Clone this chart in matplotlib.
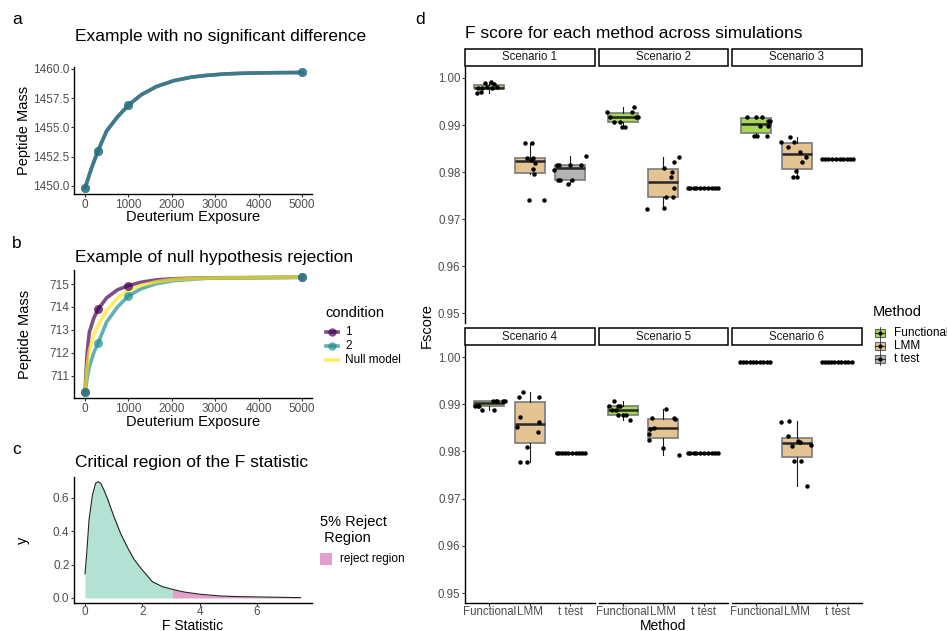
import matplotlib.pyplot as plt
from matplotlib.lines import Line2D
from matplotlib.patches import Rectangle

plt.rcParams['font.family'] = ['Liberation Sans', 'DejaVu Sans']

W, H = 947, 631

# ---- panel a: no significant difference ----
A_TIME = [0, 300, 1000, 5000]
A_MASS_1 = [1449.8, 1453.0, 1456.9, 1459.7]
A_MASS_2 = [1449.8, 1453.0, 1456.9, 1459.7]
A_FIT_X = [0, 150, 300, 500, 750, 1000, 1300, 1650, 2050, 2450, 2800, 3200, 3600, 4350, 5000]
A_FIT_1 = [1449.8, 1451.5, 1453.0, 1454.7, 1455.9, 1456.9, 1457.8, 1458.5, 1459.0,
           1459.3, 1459.45, 1459.57, 1459.63, 1459.68, 1459.7]
A_FIT_2 = [1449.8, 1451.5, 1453.0, 1454.7, 1455.9, 1456.9, 1457.8, 1458.5, 1459.0,
           1459.3, 1459.45, 1459.57, 1459.63, 1459.68, 1459.7]

# ---- panel b: null hypothesis rejection ----
B_TIME = [0, 300, 1000, 5000]
B_MASS_1 = [710.29, 713.9, 714.93, 715.29]
B_MASS_2 = [710.29, 712.42, 714.48, 715.3]
B_FIT_X = [0, 50, 100, 200, 300, 500, 750, 1000, 1300, 1650, 2050, 2800, 5000]
B_FIT_1 = [710.29, 712.0, 712.9, 713.5, 713.9, 714.4, 714.75, 714.93, 715.08, 715.18, 715.23, 715.27, 715.29]
B_FIT_2 = [710.29, 710.9, 711.4, 712.0, 712.42, 713.35, 714.0, 714.48, 714.8, 715.02, 715.15, 715.25, 715.3]
B_FIT_NULL = [710.29, 711.4, 712.1, 712.8, 713.2, 713.85, 714.4, 714.72, 714.95, 715.1, 715.2, 715.26, 715.3]
B_LABELS = ['1', '2', 'Null model']

# ---- panel c: F density ----
C_X = [0, 0.06, 0.14, 0.26, 0.37, 0.45, 0.55, 0.66, 0.78, 1.01, 1.24, 1.48, 1.71, 2.0,
       2.35, 2.70, 3.05, 3.45, 4.03, 4.73, 5.43, 6.13, 6.83, 7.52]
C_Y = [0.144, 0.268, 0.468, 0.618, 0.688, 0.698, 0.688, 0.648, 0.598, 0.488, 0.388, 0.304,
       0.232, 0.168, 0.098, 0.068, 0.052, 0.036, 0.022, 0.012, 0.008, 0.006, 0.004, 0.002]
REJECT_F = 3.05

# ---- panel d: F scores, one list per scenario ----
SCENARIOS = ['Scenario 1', 'Scenario 2', 'Scenario 3', 'Scenario 4', 'Scenario 5', 'Scenario 6']
METHODS = ['Functional', 'LMM', 't test']
FUNCTIONAL = [
    [0.9969, 0.9970, 0.9979, 0.9978, 0.9980, 0.9979, 0.9980, 0.9990, 0.9991, 0.9987],
    [0.9928, 0.9917, 0.9907, 0.9907, 0.9896, 0.9896, 0.9928, 0.9938, 0.9917, 0.9917],
    [0.9918, 0.9918, 0.9918, 0.9908, 0.9908, 0.9898, 0.9898, 0.9877, 0.9877, 0.9877],
    [0.9897, 0.9897, 0.9897, 0.9887, 0.9907, 0.9907, 0.9907, 0.9887, 0.9907, 0.9907],
    [0.9897, 0.9907, 0.9887, 0.9887, 0.9897, 0.9897, 0.98765, 0.98765, 0.98665, 0.98765],
    [0.9989, 0.9989, 0.9989, 0.9989, 0.9989, 0.9989, 0.9989, 0.9989, 0.9989, 0.9989],
]
LMM = [
    [0.9862, 0.9862, 0.9830, 0.9830, 0.9819, 0.9807, 0.9796, 0.9741, 0.9741, 0.9826],
    [0.9722, 0.9723, 0.9808, 0.9821, 0.9831, 0.9800, 0.9789, 0.9767, 0.9746, 0.9746],
    [0.98645, 0.98745, 0.98645, 0.9854, 0.9843, 0.9833, 0.9822, 0.9802, 0.9790, 0.9790],
    [0.9927, 0.9916, 0.9916, 0.9874, 0.9852, 0.9863, 0.9842, 0.9810, 0.9777, 0.9777],
    [0.9889, 0.9871, 0.9870, 0.9869, 0.9850, 0.9848, 0.9838, 0.9824, 0.9807, 0.9792],
    [0.9863, 0.9865, 0.9832, 0.9811, 0.9822, 0.9821, 0.9814, 0.9780, 0.9780, 0.9727],
]
TTEST = [
    [0.9804, 0.9814, 0.9814, 0.9784, 0.9784, 0.9775, 0.9784, 0.9814, 0.9814, 0.9834],
    [0.9766, 0.9766, 0.9766, 0.9766, 0.9766, 0.9766, 0.9766, 0.9766, 0.9766, 0.9766],
    [0.9828, 0.9828, 0.9828, 0.9828, 0.9828, 0.9828, 0.9828, 0.9828, 0.9828, 0.9828],
    [0.9797, 0.9797, 0.9797, 0.9797, 0.9797, 0.9797, 0.9797, 0.9797, 0.9797, 0.9797],
    [0.9797, 0.9797, 0.9797, 0.9797, 0.9797, 0.9797, 0.9797, 0.9797, 0.9797, 0.9797],
    [0.9989, 0.9989, 0.9989, 0.9989, 0.9989, 0.9989, 0.9989, 0.9989, 0.9989, 0.9989],
]

# horizontal jitter of the points (as seen in the picture)
JIT_F = [
    [-0.31, -0.21, -0.27, -0.17, -0.05, 0.06, 0.18, -0.11, 0.04, 0.12],
    [-0.38, -0.31, -0.22, -0.06, -0.02, 0.05, 0.24, 0.27, 0.32, 0.38],
    [-0.23, 0.0, 0.15, 0.30, 0.33, 0.08, 0.29, -0.05, 0.03, 0.27],
    [-0.36, -0.29, -0.25, -0.17, 0.10, 0.17, 0.20, 0.12, 0.38, 0.35],
    [-0.35, -0.21, -0.26, -0.16, -0.12, -0.06, -0.12, 0.01, 0.19, 0.09],
    [-0.40, -0.33, -0.25, -0.16, -0.08, 0.0, 0.08, 0.17, 0.26, 0.35],
]
JIT_L = [
    [-0.12, 0.06, -0.08, 0.07, 0.13, 0.07, 0.10, -0.02, 0.36, 0.02],
    [-0.40, 0.03, 0.02, 0.27, 0.38, 0.22, 0.18, 0.26, 0.08, 0.25],
    [-0.40, -0.17, -0.06, -0.21, 0.07, 0.22, 0.14, -0.03, -0.09, 0.01],
    [-0.17, -0.26, 0.22, -0.25, -0.31, 0.22, 0.21, -0.08, -0.23, -0.08],
    [0.07, -0.27, 0.26, 0.28, -0.23, -0.32, -0.34, -0.36, -0.01, 0.39],
    [-0.40, -0.20, -0.21, -0.12, 0.04, 0.07, 0.34, -0.06, 0.11, 0.25],
]
JIT_T = [
    [-0.39, -0.32, -0.27, -0.29, -0.26, -0.05, 0.05, 0.0, 0.27, 0.39],
    [-0.40, -0.33, -0.25, -0.18, -0.10, 0.0, 0.10, 0.20, 0.28, 0.35],
    [-0.38, -0.30, -0.22, -0.12, -0.04, 0.06, 0.15, 0.24, 0.32, 0.40],
    [-0.33, -0.27, -0.20, -0.13, -0.05, 0.05, 0.14, 0.22, 0.30, 0.37],
    [-0.40, -0.33, -0.25, -0.18, -0.10, 0.0, 0.10, 0.20, 0.28, 0.35],
    [-0.38, -0.30, -0.22, -0.15, -0.07, 0.02, 0.10, 0.18, 0.26, 0.36],
]

PURPLE, TEAL, YELLOW = '#440154', '#21908C', '#FDE725'
METHOD_COLORS = ['#a6d854', '#e5c494', '#b3b3b3']
KEEP_FILL, REJECT_FILL = '#b3e2d4', '#e3a0cc'
TICK_C, LABEL_C = '#333333', '#4d4d4d'


def fx(px):
    return px / W


def fy(py):
    return 1 - py / H


def box(x0, y0, x1, y1):
    return [fx(x0), fy(y1), (x1 - x0) / W, (y1 - y0) / H]


def style(ax, left=True, bottom=True, size=8.5):
    for s in ['top', 'right']:
        ax.spines[s].set_visible(False)
    ax.spines['left'].set_visible(left)
    ax.spines['bottom'].set_visible(bottom)
    for s in ['left', 'bottom']:
        ax.spines[s].set_linewidth(1.0)
        ax.spines[s].set_color('black')
    ax.tick_params(length=2.3, width=0.8, color=TICK_C, labelcolor=LABEL_C,
                   labelsize=size, pad=1.0)


def text(px, py, s, size=10.5, **kw):
    kw.setdefault('va', 'center')
    fig.text(fx(px), fy(py), s, fontsize=size, color=kw.pop('color', 'black'), **kw)


fig = plt.figure(figsize=(W / 100, H / 100), dpi=100)

# ---------- a ----------
ax = fig.add_axes(box(74, 67, 312, 194))
style(ax)
ax.plot(A_FIT_X, A_FIT_1, color=PURPLE, lw=2.6, alpha=0.7)
ax.plot(A_FIT_X, A_FIT_2, color=TEAL, lw=2.6, alpha=0.7)
ax.plot(A_TIME, A_MASS_1, 'o', color=PURPLE, ms=6.5, alpha=0.6, mew=0)
ax.plot(A_TIME, A_MASS_2, 'o', color=TEAL, ms=6.5, alpha=0.7, mew=0)
ax.set_xlim(-253, 5230)
ax.set_ylim(1449.29, 1460.17)
ax.set_xticks([0, 1000, 2000, 3000, 4000, 5000])
ax.set_yticks([1450, 1452.5, 1455, 1457.5, 1460])
ax.set_yticklabels(['1450.0', '1452.5', '1455.0', '1457.5', '1460.0'])
text(12, 19, 'a', 12.5)
text(75, 36, 'Example with no significant difference', 12.5)
text(24, 130, 'Peptide Mass', rotation=90, ha='center')
text(193, 217, 'Deuterium Exposure', ha='center')

# ---------- b ----------
ax = fig.add_axes(box(74, 270, 312, 398))
style(ax)
ax.plot(B_FIT_X, B_FIT_1, color=PURPLE, lw=2.6, alpha=0.7)
ax.plot(B_FIT_X, B_FIT_2, color=TEAL, lw=2.6, alpha=0.7)
ax.plot(B_FIT_X, B_FIT_NULL, color=YELLOW, lw=2.6, alpha=0.7)
ax.plot(B_TIME, B_MASS_1, 'o', color=PURPLE, ms=6.5, alpha=0.7, mew=0)
ax.plot(B_TIME, B_MASS_2, 'o', color=TEAL, ms=6.5, alpha=0.7, mew=0)
ax.set_xlim(-253, 5230)
ax.set_ylim(710.04, 715.61)
ax.set_xticks([0, 1000, 2000, 3000, 4000, 5000])
ax.set_yticks([711, 712, 713, 714, 715])
text(12, 244, 'b', 12.5)
text(75, 258, 'Example of null hypothesis rejection', 12.5)
text(25, 334, 'Peptide Mass', rotation=90, ha='center')
text(193, 422, 'Deuterium Exposure', ha='center')

text(325, 313, 'condition')
for i, (lab, col) in enumerate(zip(B_LABELS, [PURPLE, TEAL, YELLOW])):
    yy = 332 + i * 14
    fig.add_artist(Line2D([fx(326), fx(338)], [fy(yy), fy(yy)], transform=fig.transFigure,
                          color=col, lw=2.6, alpha=0.7))
    if i < 2:
        fig.add_artist(Line2D([fx(332)], [fy(yy)], transform=fig.transFigure, marker='o',
                              color=col, ms=6, alpha=0.7, mew=0))
    text(345, yy, lab, 8.5)

# ---------- c ----------
ax = fig.add_axes(box(74, 477, 312, 603))
style(ax)
ax.tick_params(axis='x', length=2.0, pad=0.2)
keep = [i for i, x in enumerate(C_X) if x <= REJECT_F]
rej = [i for i, x in enumerate(C_X) if x >= REJECT_F]
ax.fill_between([C_X[i] for i in keep], [C_Y[i] for i in keep], 0, color=KEEP_FILL, lw=0)
ax.fill_between([C_X[i] for i in rej], [C_Y[i] for i in rej], 0, color=REJECT_FILL, lw=0)
ax.plot(C_X, C_Y, color='#222222', lw=0.8)
ax.set_xlim(-0.384, 7.92)
ax.set_ylim(-0.030, 0.726)
ax.set_xticks([0, 2, 4, 6])
ax.set_yticks([0.0, 0.2, 0.4, 0.6])
ax.set_yticklabels(['0.0', '0.2', '0.4', '0.6'])
text(12, 449, 'c', 12.5)
text(75, 463, 'Critical region of the F statistic', 12.5)
text(23, 540, 'y', rotation=90, ha='center')
text(193, 625.5, 'F Statistic', 10.0, ha='center')

text(320, 522, '5% Reject', 10.5)
text(320, 538, ' Region', 10.5)
fig.add_artist(Rectangle((fx(320), fy(565)), 12 / W, 12 / H, transform=fig.transFigure,
                         fc=REJECT_FILL, ec='none'))
text(340, 559, 'reject region', 8.5)

# ---------- d ----------
col_left = [465, 598.5, 732]
col_w = 129.5
rows = [(49, 66, 323), (328, 345, 603)]
for k in range(6):
    r, c = divmod(k, 3)
    s_top, p_top, p_bot = rows[r]
    x0 = col_left[c]
    ax = fig.add_axes(box(x0, p_top, x0 + col_w, p_bot))
    style(ax, left=(c == 0), bottom=(r == 1), size=8.3)
    ax.tick_params(axis='x', length=2.0, pad=0.2)
    groups = [FUNCTIONAL[k], LMM[k], TTEST[k]]
    jits = [JIT_F[k], JIT_L[k], JIT_T[k]]
    bp = ax.boxplot(groups, positions=[1, 2, 3], widths=0.75, patch_artist=True,
                    showfliers=False, showcaps=False, whis=1.5,
                    medianprops=dict(color='#262626', lw=1.8),
                    whiskerprops=dict(color='#1a1a1a', lw=0.8),
                    boxprops=dict(lw=1.2))
    for patch, col in zip(bp['boxes'], METHOD_COLORS):
        patch.set_facecolor(col)
        patch.set_edgecolor('#7a7a7a')
    for j, (vals, jit) in enumerate(zip(groups, jits)):
        ax.plot([j + 1 + o for o in jit], vals, 'o', color='black', ms=3.2, mew=0, zorder=5)
    ax.set_xlim(0.4, 3.6)
    ax.set_ylim(0.9479, 1.00255)
    ax.set_yticks([0.95, 0.96, 0.97, 0.98, 0.99, 1.00])
    ax.set_xticks([1, 2, 3])
    if c == 0:
        ax.set_yticklabels(['0.95', '0.96', '0.97', '0.98', '0.99', '1.00'])
    else:
        ax.tick_params(axis='y', left=False, labelleft=False)
    if r == 1:
        ax.set_xticklabels(METHODS)
    else:
        ax.tick_params(axis='x', bottom=False, labelbottom=False)
    fig.add_artist(Rectangle((fx(x0), fy(p_top)), col_w / W, (p_top - s_top) / H,
                             transform=fig.transFigure, fc='white', ec='black', lw=1.1))
    text(x0 + col_w / 2, (s_top + p_top) / 2, SCENARIOS[k], 8.3, ha='center', color='#1a1a1a')

text(415, 19, 'd', 12.5)
text(465, 34, 'F score for each method across simulations', 12.5)
text(427, 326, 'Fscore', rotation=90, ha='center')
text(663, 625.5, 'Method', 10.0, ha='center')

text(873, 312, 'Method')
for i, (lab, col) in enumerate(zip(METHODS, METHOD_COLORS)):
    yy = 333 + i * 13
    fig.add_artist(Line2D([fx(880), fx(880)], [fy(yy - 6), fy(yy + 6)], transform=fig.transFigure,
                          color='#333333', lw=0.6))
    fig.add_artist(Rectangle((fx(875), fy(yy + 4)), 10 / W, 8 / H, transform=fig.transFigure,
                             fc=col, ec='#666666', lw=0.8))
    fig.add_artist(Line2D([fx(875), fx(885)], [fy(yy), fy(yy)], transform=fig.transFigure,
                          color='#333333', lw=0.8))
    fig.add_artist(Line2D([fx(880)], [fy(yy)], transform=fig.transFigure, marker='o',
                          color='black', ms=3, mew=0))
    text(894, yy, lab, 8.5)

fig.savefig('out.png', dpi=100)
